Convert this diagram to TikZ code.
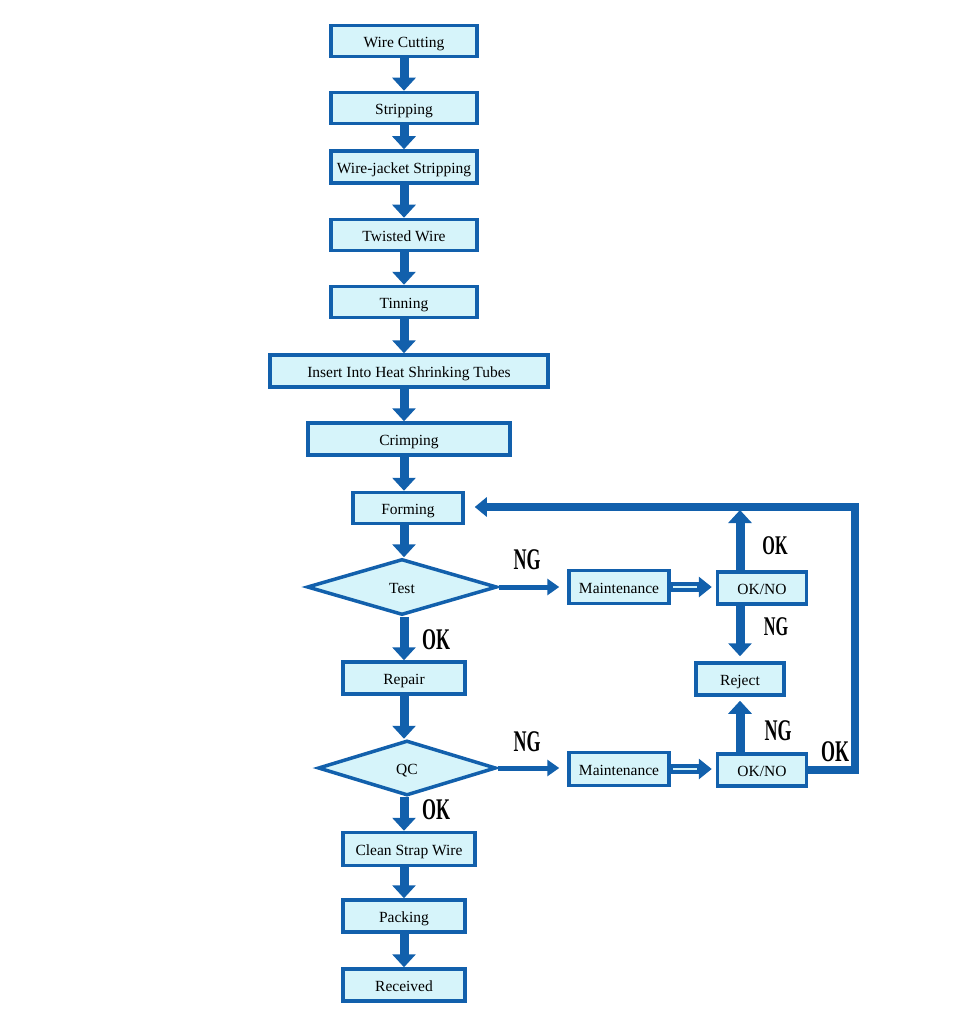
\documentclass[tikz,border=0pt]{standalone}
\usepackage{fontspec}
\setmainfont{Liberation Serif}
\usetikzlibrary{shapes.geometric,arrows.meta,calc}
\definecolor{bblue}{RGB}{18,96,172}
\definecolor{bfill}{RGB}{214,244,250}
\begin{document}
\begin{tikzpicture}[x=1pt,y=-1pt,
  box/.style={draw=bblue, fill=bfill, line width=3.5pt, rectangle, inner sep=0pt,
    minimum height=31pt, text height=13pt, text depth=0pt, font=\fontsize{15.5}{17}\selectfont},
  dia/.style={draw=bblue, fill=bfill, line width=3.5pt, diamond, inner sep=0pt,
    text height=13pt, text depth=0pt, font=\fontsize{15.5}{17}\selectfont},
  flow/.style={draw=bblue, line width=9pt, -{Triangle[width=23pt,length=13pt]}},
  side/.style={draw=bblue, line width=5pt, -{Triangle[width=16pt,length=12pt]}},
  dbl/.style={draw=bblue, line width=10pt, -{Triangle[width=20pt,length=13pt]}},
  loopst/.style={draw=bblue, line width=7.5pt, -{Triangle[width=19pt,length=12pt]}},
  lab/.style={font=\fontsize{30}{30}\bfseries\selectfont, inner sep=0pt},
  slab/.style={font=\fontsize{27}{27}\bfseries\selectfont, inner sep=0pt}
]
\useasboundingbox (0,0) rectangle (956,1024);
% main column
\node[box, minimum width=146pt] (w1) at (404,41) {Wire Cutting};
\node[box, minimum width=146pt] (w2) at (404,108) {Stripping};
\node[box, minimum width=146pt, minimum height=32pt] (w3) at (404,167) {Wire-jacket Stripping};
\node[box, minimum width=146pt] (w4) at (404,235) {Twisted Wire};
\node[box, minimum width=146pt] (w5) at (404,302) {Tinning};
\node[box, minimum width=278pt, minimum height=32pt] (w6) at (409,371) {Insert Into Heat Shrinking Tubes};
\node[box, minimum width=202pt, minimum height=32pt] (w7) at (409,439) {Crimping};
\node[box, minimum width=110pt] (w8) at (408,508) {Forming};
\node[dia, minimum width=190pt, minimum height=56pt] (test) at (402,587) {Test};
\node[box, minimum width=122pt, minimum height=32pt] (rep) at (404,678) {Repair};
\node[dia, minimum width=178pt, minimum height=55pt] (qc) at (407,768) {QC};
\node[box, minimum width=132pt, minimum height=33pt] (cl) at (409,849) {Clean Strap Wire};
\node[box, minimum width=122pt, minimum height=32pt] (pk) at (404,916) {Packing};
\node[box, minimum width=122pt, minimum height=32pt] (rc) at (404,985) {Received};
% right side
\node[box, minimum width=100pt, minimum height=33pt] (m1) at (619,587) {Maintenance};
\node[box, minimum width=89pt, minimum height=32pt] (ok1) at (762,588) {OK/NO};
\node[box, minimum width=88pt, minimum height=32pt] (rj) at (740,679) {Reject};
\node[box, minimum width=100pt, minimum height=33pt] (m2) at (619,769) {Maintenance};
\node[box, minimum width=89pt, minimum height=32pt] (ok2) at (762,770) {OK/NO};
\coordinate (cx) at (404,0);
\coordinate (lc) at (855,507);
% column arrows
\draw[flow] (w1.south -| cx) -- (w2.north -| cx);
\draw[flow] (w2.south -| cx) -- (w3.north -| cx);
\draw[flow] (w3.south -| cx) -- (w4.north -| cx);
\draw[flow] (w4.south -| cx) -- (w5.north -| cx);
\draw[flow] (w5.south -| cx) -- (w6.north -| cx);
\draw[flow] (w6.south -| cx) -- (w7.north -| cx);
\draw[flow] (w7.south -| cx) -- (w8.north -| cx);
\draw[flow] (w8.south -| cx) -- (test.north -| cx);
\draw[flow] (test.south -| cx) -- (rep.north -| cx);
\draw[flow] (rep.south -| cx) -- (qc.north -| cx);
\draw[flow] (qc.south -| cx) -- (cl.north -| cx);
\draw[flow] (cl.south -| cx) -- (pk.north -| cx);
\draw[flow] (pk.south -| cx) -- (rc.north -| cx);
% side arrows
\draw[side, shorten >=8pt] (test.east) -- (m1.west);
\draw[side, shorten >=8pt] (qc.east) -- (qc.east -| m2.west);
\draw[dbl, shorten >=4pt] (m1.east) -- (m1.east -| ok1.west);
\draw[bfill, line width=2pt] ($(m1.east)+(2,0)$) -- ($(m1.east -| ok1.west)+(-19,0)$);
\draw[dbl, shorten >=4pt] (m2.east) -- (m2.east -| ok2.west);
\draw[bfill, line width=2pt] ($(m2.east)+(2,0)$) -- ($(m2.east -| ok2.west)+(-19,0)$);
\draw[flow, shorten >=3pt] (ok1.north -| rj.north) -- (lc -| rj.north);
\draw[flow, shorten >=5pt] (ok1.south -| rj.north) -- (rj.north);
\draw[flow, shorten >=4pt] (ok2.north -| rj.south) -- (rj.south);
\draw[loopst, shorten >=10pt] (ok2.east) -| (lc) -- (lc -| w8.east);
% labels
\node[lab] (ng1) at (527,560) {\scalebox{0.6}[1]{NG}};
\node[lab] (okt) at (436,640) {\scalebox{0.6}[1]{OK}};
\node[lab] (ng2) at (527,742) {\scalebox{0.6}[1]{NG}};
\node[lab] (okq) at (436,810) {\scalebox{0.6}[1]{OK}};
\node[slab] (oku) at (775,546) {\scalebox{0.6}[1]{OK}};
\node[slab] (ngd) at (776,627) {\scalebox{0.6}[1]{NG}};
\node[lab] (ngu) at (778,731) {\scalebox{0.6}[1]{NG}};
\node[lab] (okr) at (835,752) {\scalebox{0.6}[1]{OK}};
\end{tikzpicture}
\end{document}
